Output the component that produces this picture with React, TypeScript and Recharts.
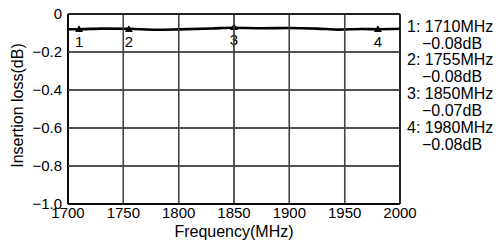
import React from 'react';
import { LineChart, Line, XAxis, YAxis, CartesianGrid } from 'recharts';

const freqs = [1700, 1710, 1730, 1755, 1780, 1800, 1830, 1850, 1875, 1900, 1925, 1945, 1965, 1980, 2000];
const loss = [-0.08, -0.08, -0.077, -0.078, -0.083, -0.081, -0.076, -0.072, -0.075, -0.074, -0.077, -0.082, -0.079, -0.08, -0.078];

const markerNames = ['1', '2', '3', '4'];
const markerFreqs = [1710, 1755, 1850, 1980];
const markerLoss = [-0.08, -0.08, -0.07, -0.08];

const xTicks = [1700, 1750, 1800, 1850, 1900, 1950, 2000];
const yTicks = [0, -0.2, -0.4, -0.6, -0.8, -1.0];

const legendLines = [
  '1: 1710MHz', '\u22120.08dB',
  '2: 1755MHz', '\u22120.08dB',
  '3: 1850MHz', '\u22120.07dB',
  '4: 1980MHz', '\u22120.08dB',
];

const data = freqs.map((f, i) => ({ f, v: loss[i] }));
const markers = markerFreqs.map((f, i) => ({ f, m: markerLoss[i], n: markerNames[i] }));

const FONT = 'Liberation Sans, Arial, Helvetica, sans-serif';

const W = 496;
const H = 249;
const M = { top: 14, right: 96, bottom: 0, left: 0 };
const Y_AXIS_W = 68;
const X_AXIS_H = 45;
const PL = M.left + Y_AXIS_W;
const PT = M.top;
const PW = W - M.left - M.right - Y_AXIS_W;
const PH = H - M.top - M.bottom - X_AXIS_H;
const X0 = xTicks[0];
const X1 = xTicks[xTicks.length - 1];
const Y0 = yTicks[yTicks.length - 1];
const Y1 = yTicks[0];
const gx = (t: number) => PL + ((t - X0) / (X1 - X0)) * PW;
const gy = (t: number) => PT + ((Y1 - t) / (Y1 - Y0)) * PH;

const fmtY = (v: number) => (v === 0 ? '0' : '\u2212' + Math.abs(v).toFixed(1));

const renderTriangle = (props: any) => {
  const { cx, cy, index } = props;
  if (cx == null || cy == null) return <g key={'t' + index} />;
  return (
    <path
      key={'t' + index}
      d={`M${cx},${cy - 4} L${cx + 4},${cy + 2.8} L${cx - 4},${cy + 2.8} Z`}
      fill="#000"
    />
  );
};

const MarkerLabel = (props: any) => {
  const { x, y, index } = props;
  return (
    <text x={x} y={y + 18} textAnchor="middle" fontSize={15} fontFamily={FONT} fill="#000">
      {markerNames[index]}
    </text>
  );
};

export default function App() {
  return (
    <div style={{ position: 'fixed', left: 0, top: 0, width: W, height: H, background: '#fff' }}>
      <div style={{ position: 'absolute', left: 0, top: 0 }}>
        <LineChart width={W} height={H} margin={M} data={data}>
          <CartesianGrid stroke="#444" strokeWidth={1.3} />
          <XAxis
            dataKey="f"
            type="number"
            domain={[X0, X1]}
            ticks={xTicks}
            height={X_AXIS_H}
            tickLine={false}
            tickSize={0}
            tickMargin={3}
            axisLine={{ stroke: '#000', strokeWidth: 1.5 }}
            tick={{ fill: '#000', fontSize: 15, fontFamily: FONT }}
            interval={0}
          />
          <YAxis
            type="number"
            domain={[Y0, Y1]}
            ticks={yTicks}
            width={Y_AXIS_W}
            tickLine={false}
            tickSize={0}
            tickMargin={6}
            axisLine={{ stroke: '#000', strokeWidth: 1.5 }}
            tick={{ fill: '#000', fontSize: 15, fontFamily: FONT }}
            tickFormatter={fmtY}
            interval={0}
          />
          <Line type="monotone" dataKey="v" stroke="#000" strokeWidth={2.6} dot={false} isAnimationActive={false} />
          <Line
            data={markers}
            dataKey="m"
            stroke="none"
            dot={renderTriangle}
            label={<MarkerLabel />}
            isAnimationActive={false}
          />
        </LineChart>
      </div>
      <svg width={W} height={H} style={{ position: 'absolute', left: 0, top: 0, pointerEvents: 'none' }}>
        <g>
          {xTicks.map((t) => (
            <rect key={'gx' + t} x={gx(t) - 0.7} y={PT} width={1.4} height={PH}
              fill={t === X1 || t === X0 ? '#000' : '#444'} />
          ))}
          {yTicks.map((t) => (
            <rect key={'gy' + t} x={PL} y={gy(t) - 0.7} width={PW} height={1.4}
              fill={t === Y1 || t === Y0 ? '#000' : '#444'} />
          ))}
        </g>
        <g fontFamily={FONT} fill="#000">
          {legendLines.map((t, i) => (
            <text key={i} x={i % 2 === 0 ? 407 : 422} y={26 + 16.86 * i + 5.7} fontSize={16}>
              {t}
            </text>
          ))}
          <text x={234} y={236.5} fontSize={16} textAnchor="middle">Frequency(MHz)</text>
          <text x={0} y={0} fontSize={16} textAnchor="middle" transform="translate(22.5,105.5) rotate(-90)">
            Insertion loss(dB)
          </text>
        </g>
      </svg>
    </div>
  );
}
